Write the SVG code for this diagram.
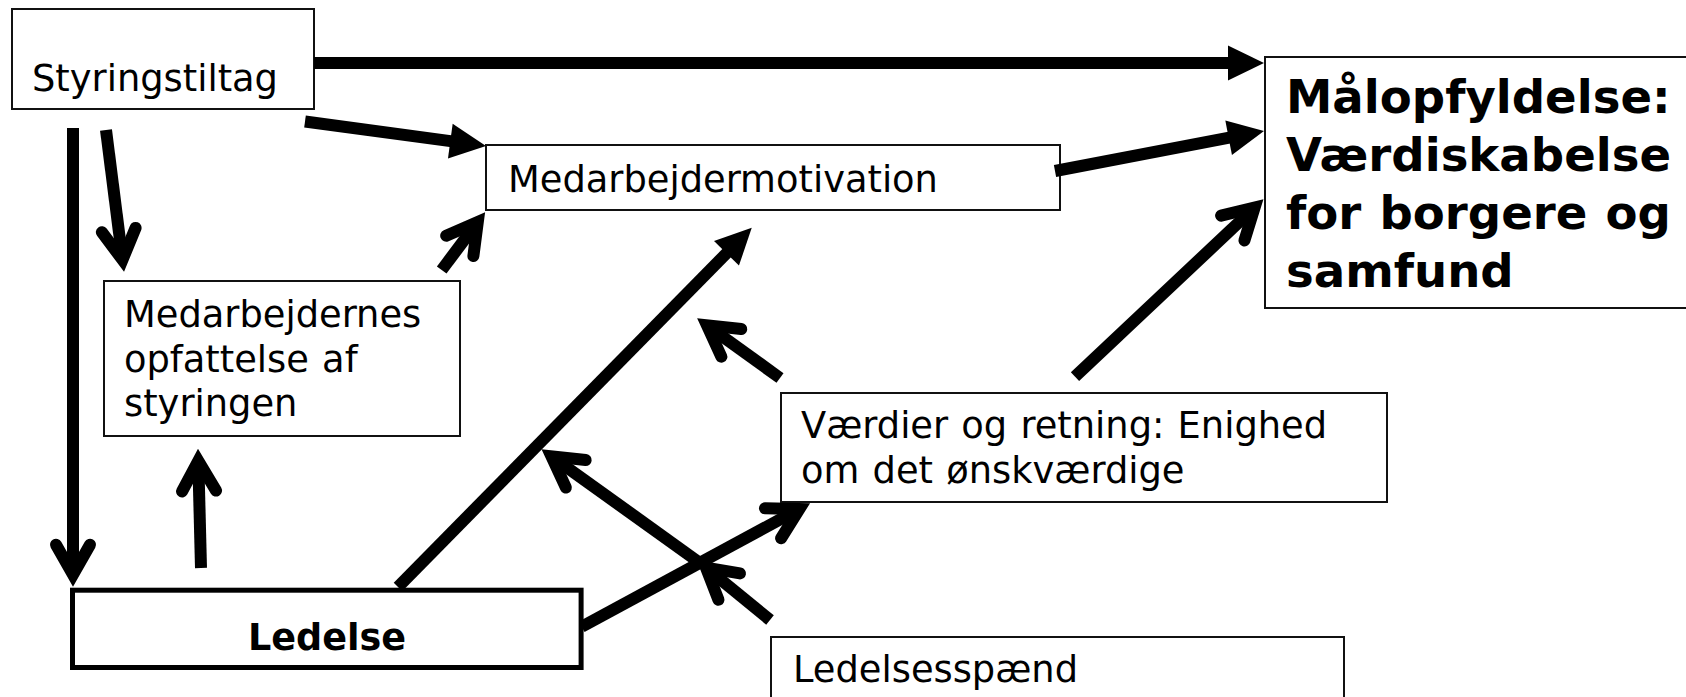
<svg xmlns="http://www.w3.org/2000/svg" width="1686" height="697" viewBox="0 0 1686 697">
<style>
.box{fill:#fff;stroke:#111;stroke-width:2}
.bold-box{fill:#fff;stroke:#000;stroke-width:5}
.t{font-family:"DejaVu Sans","Verdana",sans-serif;font-size:36.8px;word-spacing:1.5px;fill:#000}
.tb{font-family:"DejaVu Sans","Verdana",sans-serif;font-size:36.6px;font-weight:bold;fill:#000}
.tB{font-family:"DejaVu Sans","Verdana",sans-serif;font-size:46.6px;font-weight:bold;word-spacing:2px;fill:#000}
.sf{fill:none;stroke:#000;stroke-width:12;stroke-linecap:butt;marker-end:url(#filled)}
.so{fill:none;stroke:#000;stroke-width:12;stroke-linecap:butt;marker-end:url(#open)}
</style>
<defs>
<marker id="filled" markerUnits="userSpaceOnUse" markerWidth="40" markerHeight="40" viewBox="-2 -20 40 40" refX="2" refY="0" orient="auto" overflow="visible">
<path d="M0,-17.5 L36,0 L0,17.5 Z" fill="#000"/>
</marker>
<marker id="open" markerUnits="userSpaceOnUse" markerWidth="60" markerHeight="60" viewBox="-45 -30 60 60" refX="0" refY="0" orient="auto" overflow="visible">
<path d="M-30,-17 L0,0 L-30,17" fill="none" stroke="#000" stroke-width="12" stroke-linejoin="miter" stroke-miterlimit="10" stroke-linecap="round"/>
</marker>
</defs>
<rect width="1686" height="697" fill="#fff"/>

<g id="node-styringstiltag">
<rect class="box" x="12" y="9" width="302" height="100"/>
<text class="t" x="32" y="91">Styringstiltag</text>
</g>
<g id="node-medarbejdermotivation">
<rect class="box" x="486" y="145" width="574" height="65"/>
<text class="t" x="508" y="192">Medarbejdermotivation</text>
</g>
<g id="node-opfattelse">
<rect class="box" x="104" y="281" width="356" height="155"/>
<text class="t" x="124" y="327">Medarbejdernes</text>
<text class="t" x="124" y="371.5">opfattelse af</text>
<text class="t" x="124" y="416">styringen</text>
</g>
<g id="node-vaerdier">
<rect class="box" x="781" y="393" width="606" height="109"/>
<text class="t" x="801" y="438">Værdier og retning: Enighed</text>
<text class="t" x="801" y="483">om det ønskværdige</text>
</g>
<g id="node-ledelsesspaend">
<rect class="box" x="771" y="637" width="573" height="75"/>
<text class="t" x="793" y="681.5">Ledelsesspænd</text>
</g>
<g id="node-malopfyldelse">
<rect class="box" x="1265" y="57" width="440" height="251"/>
<text class="tB" x="1286" y="113">Målopfyldelse:</text>
<text class="tB" x="1286" y="170.5">Værdiskabelse</text>
<text class="tB" x="1286" y="228.5">for borgere og</text>
<text class="tB" x="1286" y="286.5">samfund</text>
</g>
<g id="node-ledelse">
<rect class="bold-box" x="72.5" y="590.2" width="508.6" height="77.3"/>
<text class="tb" x="327" y="650" text-anchor="middle">Ledelse</text>
</g>

<g id="connectors">
<line class="sf" x1="314" y1="63" x2="1230" y2="63"/>
<line class="sf" x1="305" y1="121.5" x2="452.3" y2="141.4"/>
<line class="sf" x1="1055" y1="171" x2="1230.6" y2="137.4"/>
<line class="sf" x1="398" y1="587" x2="727.9" y2="251.9"/>
<line class="so" x1="73" y1="128" x2="73" y2="574.7"/>
<line class="so" x1="106" y1="130" x2="122.5" y2="259.8"/>
<line class="so" x1="201" y1="568" x2="198.3" y2="461"/>
<line class="so" x1="441.7" y1="270" x2="477.8" y2="221.9"/>
<line class="so" x1="581.7" y1="626.7" x2="799.4" y2="509"/>
<line class="so" x1="770" y1="620" x2="706" y2="567.6"/>
<line class="so" x1="700" y1="563" x2="551.4" y2="456.3"/>
<line class="so" x1="780" y1="378" x2="707" y2="325.3"/>
<line class="so" x1="1075" y1="376.7" x2="1254.6" y2="207.5"/>
</g>
</svg>
